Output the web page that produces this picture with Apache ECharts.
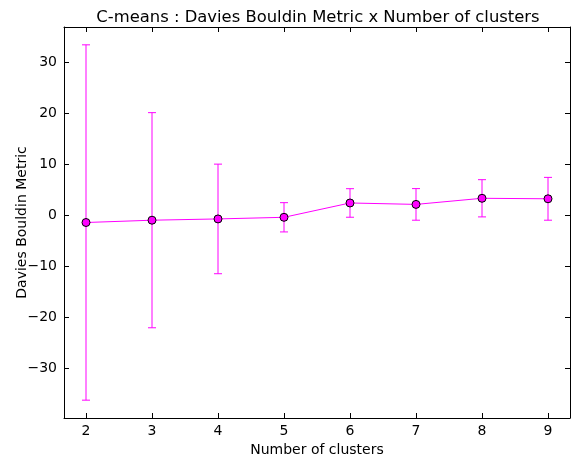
<!DOCTYPE html>
<html>
<head>
<meta charset="utf-8">
<script src="https://cdn.jsdelivr.net/npm/echarts@6/dist/echarts.min.js"></script>
<style>
html, body { margin: 0; padding: 0; background: #fff; }
#main { width: 576px; height: 459px; }
</style>
</head>
<body>
<div id="main"></div>
<script>
const clusters = [2, 3, 4, 5, 6, 7, 8, 9];
const means = [-1.35, -0.9, -0.65, -0.33, 2.48, 2.2, 3.4, 3.3];
const errors = [34.85, 21.1, 10.75, 2.87, 2.8, 3.1, 3.65, 4.2];
const xTicks = [2, 3, 4, 5, 6, 7, 8, 9];
const yTicks = [-30, -20, -10, 0, 10, 20, 30];

const font = 'DejaVu Sans';
const chart = echarts.init(document.getElementById('main'));

// points and error ranges
const linePts = clusters.map((c, i) => [c, means[i]]);
const errPts = clusters.map((c, i) => [c, means[i] - errors[i], means[i] + errors[i]]);

const minus = v => (v < 0 ? '\u2212' + (-v) : String(v));

const frameX = {
	type: 'value', min: 5 / 3, max: 28 / 3,
	axisLine: {onZero: false, lineStyle: {color: '#000', width: 1}},
	axisTick: {inside: true, length: 5, customValues: xTicks, lineStyle: {color: '#000'}},
	splitLine: {show: false}
};
const frameY = {
	type: 'value', min: -39.7, max: 37,
	axisLine: {onZero: false, lineStyle: {color: '#000', width: 1}},
	axisTick: {inside: true, length: 5, customValues: yTicks, lineStyle: {color: '#000'}},
	splitLine: {show: false}
};

const option = {
	animation: false,
	backgroundColor: '#fff',
	title: {
		text: 'C-means : Davies Bouldin Metric x Number of clusters',
		left: 313, top: 5, textAlign: 'center',
		textStyle: {fontFamily: font, fontSize: 16.4, fontWeight: 'normal', color: '#000'}
	},
	grid: {left: 64, right: 6, top: 27, bottom: 41, outerBoundsMode: 'none'},
	xAxis: [
		Object.assign({}, frameX, {
			position: 'bottom',
			name: 'Number of clusters', nameLocation: 'middle', nameGap: 22,
			nameTextStyle: {fontFamily: font, fontSize: 14, color: '#000'},
			axisLabel: {customValues: xTicks, margin: 6, fontFamily: font, fontSize: 14, color: '#000'}
		}),
		Object.assign({}, frameX, {position: 'top', axisLabel: {show: false}})
	],
	yAxis: [
		Object.assign({}, frameY, {
			position: 'left',
			name: 'Davies Bouldin Metric', nameLocation: 'middle', nameGap: 35,
			nameMoveOverlap: false,
			nameTextStyle: {fontFamily: font, fontSize: 14, color: '#000'},
			axisLabel: {customValues: yTicks, margin: 7, fontFamily: font, fontSize: 14, color: '#000', formatter: minus}
		}),
		Object.assign({}, frameY, {position: 'right', axisLabel: {show: false}})
	],
	series: [
		{
			type: 'custom',
			data: errPts,
			z: 2,
			renderItem: function (params, api) {
				const x = api.value(0);
				const lo = api.coord([x, api.value(1)]);
				const hi = api.coord([x, api.value(2)]);
				const w = 4;
				const st = {stroke: '#ff00ff', lineWidth: 1};
				return {
					type: 'group',
					children: [
						{type: 'line', shape: {x1: lo[0], y1: lo[1], x2: hi[0], y2: hi[1]}, style: st},
						{type: 'line', shape: {x1: lo[0] - w, y1: lo[1], x2: lo[0] + w, y2: lo[1]}, style: st},
						{type: 'line', shape: {x1: hi[0] - w, y1: hi[1], x2: hi[0] + w, y2: hi[1]}, style: st}
					]
				};
			}
		},
		{
			type: 'line',
			data: linePts,
			z: 3,
			symbol: 'circle',
			symbolSize: 8,
			lineStyle: {color: '#ff00ff', width: 1},
			itemStyle: {color: '#ff00ff', borderColor: '#000', borderWidth: 1}
		}
	]
};
chart.setOption(option);
</script>
</body>
</html>
